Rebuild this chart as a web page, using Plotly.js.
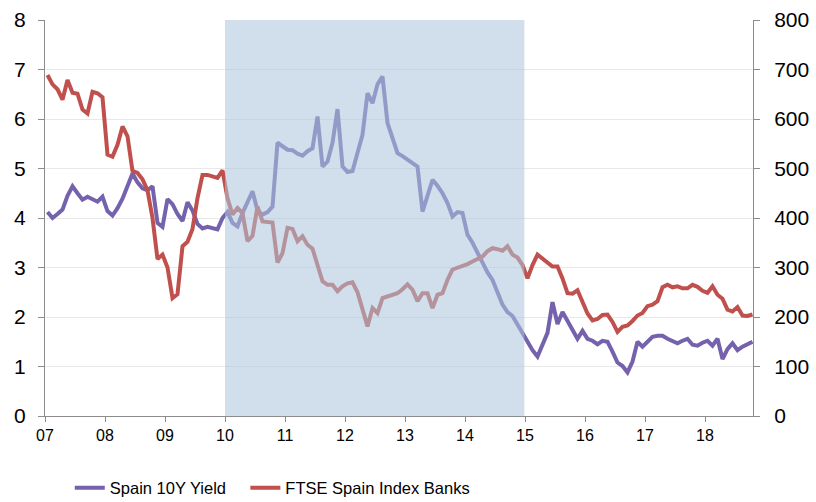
<!DOCTYPE html>
<html>
<head>
<meta charset="utf-8">
<script src="https://cdn.plot.ly/plotly-3.0.1.min.js"></script>
<style>html,body{margin:0;padding:0;background:#fff;}#chart{width:816px;height:502px;}</style>
</head>
<body>
<div id="chart"></div>
<script>
// Monthly series, Jan 2007 .. Oct 2018
var startYear = 2007;
var spainYield = [4.12,4.0,4.08,4.17,4.45,4.64,4.5,4.37,4.43,4.37,4.33,4.43,
4.14,4.05,4.2,4.39,4.63,4.9,4.72,4.6,4.56,4.64,3.9,3.82,
4.38,4.28,4.08,3.94,4.32,4.15,3.88,3.79,3.82,3.8,3.77,4.0,
4.12,3.9,3.83,4.1,4.3,4.54,4.15,4.07,4.12,4.23,5.52,5.45,
5.38,5.37,5.3,5.26,5.35,5.41,6.05,5.04,5.14,5.52,6.2,5.04,
4.93,4.95,5.3,5.68,6.52,6.32,6.7,6.86,5.92,5.6,5.31,5.25,
5.18,5.1,5.04,4.13,4.45,4.77,4.65,4.5,4.3,4.03,4.12,4.1,
3.66,3.5,3.3,3.09,2.9,2.75,2.5,2.25,2.1,2.02,1.85,1.68,
1.5,1.33,1.2,1.42,1.68,2.3,1.86,2.1,1.92,1.72,1.56,1.72,
1.56,1.52,1.45,1.52,1.5,1.3,1.08,1.01,0.88,1.1,1.5,1.4,
1.5,1.6,1.62,1.62,1.56,1.52,1.47,1.52,1.56,1.44,1.42,1.48,
1.52,1.42,1.56,1.15,1.35,1.47,1.33,1.4,1.46,1.5];
var ftseBanks = [689,670,660,639,679,653,651,619,611,655,652,644,
528,524,548,585,565,495,491,478,456,400,317,326,
300,238,246,343,352,378,440,487,487,484,481,496,
440,407,420,410,353,364,423,393,393,391,310,329,
380,378,353,363,346,338,305,272,265,265,252,262,
268,270,250,218,181,218,208,238,241,243,248,256,
266,255,232,248,248,218,245,248,275,296,299,302,
307,312,316,322,333,339,337,334,343,326,320,305,
278,305,326,318,310,302,302,278,248,247,254,228,
207,193,196,204,205,190,170,180,183,192,203,208,
222,225,232,260,265,260,262,258,258,265,261,253,
249,262,245,237,215,211,220,203,202,205];
var tickYears = [2007,2008,2009,2010,2011,2012,2013,2014,2015,2016,2017,2018];
var tickLabels = ['07','08','09','10','11','12','13','14','15','16','17','18'];
var shadeStart = 2010, shadeEnd = 2014.99;

function monthX(i){ return startYear + (i + 0.5) / 12; }
var xs = spainYield.map(function(_, i){ return monthX(i); });

var traces = [
  {x: xs, y: spainYield, name: 'Spain 10Y Yield', type: 'scatter', mode: 'lines',
   line: {color: '#7462ac', width: 4}, yaxis: 'y', legend: 'legend'},
  {x: xs, y: ftseBanks, name: 'FTSE Spain Index Banks', type: 'scatter', mode: 'lines',
   line: {color: '#c0504d', width: 4}, yaxis: 'y2', legend: 'legend2'}
];
var legendBase = {orientation: 'h', xanchor: 'left', y: -0.182, yanchor: 'middle',
                  font: {size: 16.5, color: '#000'}, itemwidth: 30, bgcolor: 'rgba(0,0,0,0)'};
var layout = {
  width: 816, height: 502,
  margin: {l: 45, r: 63, t: 20, b: 86, autoexpand: false},
  paper_bgcolor: '#fff', plot_bgcolor: '#fff',
  font: {family: 'Liberation Sans, Arial, sans-serif', color: '#000', size: 21},
  showlegend: true,
  legend: Object.assign({}, legendBase, {x: 0.035}),
  legend2: Object.assign({}, legendBase, {x: 0.283}),
  xaxis: {range: [2007, 2018.8], tickvals: tickYears, ticktext: tickLabels,
          showgrid: false, zeroline: false, showline: true, linecolor: '#8c8c8c', linewidth: 1,
          ticks: 'outside', ticklen: 5, tickcolor: '#8c8c8c',
          tickfont: {size: 16}},
  yaxis: {range: [0, 8], dtick: 1, showgrid: true, gridcolor: '#e8e8e8', zeroline: false,
          showline: true, linecolor: '#8c8c8c', linewidth: 1, ticks: 'outside', ticklen: 6,
          tickcolor: '#8c8c8c', tickfont: {size: 21}, ticklabelstandoff: 8},
  yaxis2: {range: [0, 800], dtick: 100, overlaying: 'y', side: 'right', showgrid: false,
           zeroline: false, showline: true, linecolor: '#8c8c8c', linewidth: 1, ticks: 'outside',
           ticklen: 6, tickcolor: '#8c8c8c', tickfont: {size: 21}, ticklabelstandoff: 10},
  shapes: [{type: 'rect', xref: 'x', yref: 'paper', x0: shadeStart, x1: shadeEnd, y0: 0, y1: 1,
            fillcolor: 'rgb(172,198,220)', opacity: 0.565, line: {width: 0}, layer: 'above'}]
};
Plotly.newPlot('chart', traces, layout, {displayModeBar: false, staticPlot: true});
</script>
</body>
</html>
